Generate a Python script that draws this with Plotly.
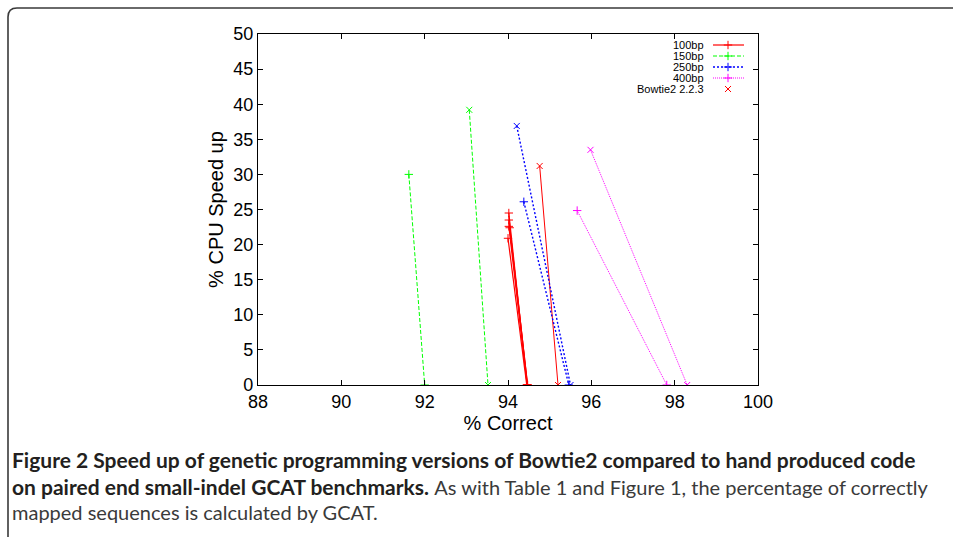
import plotly.graph_objects as go

# ---------------- data ----------------
# each series: list of segments (top point -> bottom point)
s100_gp_x_top = [94.02, 94.02, 94.02, 94.04, 94.00]
s100_gp_y_top = [24.5, 23.5, 22.6, 22.4, 20.9]
s100_gp_x_bot = [94.46, 94.47, 94.46, 94.47, 94.45]
s100_bt_x = [94.76, 95.20]
s100_bt_y = [31.2, 0.0]

s150_gp_x = [91.62, 92.00]
s150_gp_y = [30.0, 0.0]
s150_bt_x = [93.07, 93.52]
s150_bt_y = [39.2, 0.0]

s250_gp_x = [94.38, 95.46]
s250_gp_y = [26.1, 0.0]
s250_bt_x = [94.21, 95.50]
s250_bt_y = [36.9, 0.0]

s400_gp_x = [95.66, 97.81]
s400_gp_y = [24.85, 0.0]
s400_bt_x = [95.98, 98.30]
s400_bt_y = [33.5, 0.0]

legend_labels = ["100bp", "150bp", "250bp", "400bp", "Bowtie2 2.2.3"]

x_ticks = [88, 90, 92, 94, 96, 98, 100]
y_ticks = [0, 5, 10, 15, 20, 25, 30, 35, 40, 45, 50]

RED, GREEN, BLUE, MAG = "#ff0000", "#00ff00", "#0000ff", "#ff00ff"
styles = {
    "100bp": dict(color=RED, dash="solid", width=1.2),
    "150bp": dict(color=GREEN, dash="4px,2px", width=1),
    "250bp": dict(color=BLUE, dash="2px,2px", width=1.4),
    "400bp": dict(color=MAG, dash="1px,1px", width=1),
}
MS = 6

fig = go.Figure()

def seg(xs, ys, style, sym):
    fig.add_trace(go.Scatter(
        x=xs, y=ys, mode="lines+markers", showlegend=False,
        line=style,
        marker=dict(symbol=sym, size=MS, color=style["color"],
                    line=dict(width=1, color=style["color"])),
        hoverinfo="x+y"))

for xt, yt, xb in zip(s100_gp_x_top, s100_gp_y_top, s100_gp_x_bot):
    seg([xt, xb], [yt, 0.0], styles["100bp"], "cross-thin")
seg(s100_bt_x, s100_bt_y, dict(color=RED, dash="solid", width=1), "x-thin")
seg(s150_gp_x, s150_gp_y, styles["150bp"], "cross-thin")
seg(s150_bt_x, s150_bt_y, styles["150bp"], "x-thin")
seg(s250_gp_x, s250_gp_y, styles["250bp"], "cross-thin")
seg(s250_bt_x, s250_bt_y, styles["250bp"], "x-thin")
seg(s400_gp_x, s400_gp_y, styles["400bp"], "cross-thin")
seg(s400_bt_x, s400_bt_y, styles["400bp"], "x-thin")

# ---------------- gnuplot style legend (pixel axes x2/y2) ----------------
PL, PR, PT, PB = 258, 758, 34, 385
leg_rows = [45, 56, 67, 78, 89]
for lab, ry in zip(legend_labels, leg_rows):
    fig.add_annotation(x=706, y=ry, xref="x2", yref="y2", text=lab,
                       showarrow=False, xanchor="right", yanchor="middle",
                       font=dict(family="Liberation Sans, Arial", size=11, color="#000"))
    if lab in styles:
        st = styles[lab]
        fig.add_trace(go.Scatter(x=[713, 744], y=[ry, ry], xaxis="x2", yaxis="y2",
                                 mode="lines", line=st, showlegend=False, hoverinfo="skip"))
        fig.add_trace(go.Scatter(x=[728], y=[ry], xaxis="x2", yaxis="y2", mode="markers",
                                 marker=dict(symbol="cross-thin", size=MS, color=st["color"],
                                             line=dict(width=1, color=st["color"])),
                                 showlegend=False, hoverinfo="skip"))
    else:
        fig.add_trace(go.Scatter(x=[728], y=[ry], xaxis="x2", yaxis="y2", mode="markers",
                                 marker=dict(symbol="x-thin", size=MS, color=RED,
                                             line=dict(width=1, color=RED)),
                                 showlegend=False, hoverinfo="skip"))

W, H = 953, 537
def px(x):
    return (x - PL) / (PR - PL)
def py(y):
    return (PB - y) / (PB - PT)

# outer figure frame (rounded top-left corner)
fig.add_shape(type="path", xref="paper", yref="paper",
              path=f"M {px(8)} {py(540)} L {px(8)} {py(17)} Q {px(8)} {py(8)} {px(17)} {py(8)} L {px(960)} {py(8)}",
              line=dict(color="#3a3a3a", width=1.6))

# caption
cap_font = dict(family="Lato, Open Sans, sans-serif", size=21, color="#231f20")
reg = "<span style='color:#3a3a3a;font-size:20px'>{}</span>"
fig.add_annotation(x=px(10), y=py(459), xref="paper", yref="paper", xanchor="left", yanchor="middle",
                   showarrow=False, align="left", font=cap_font,
                   text="<b>Figure 2 Speed up of genetic programming versions of Bowtie2 compared to hand produced code</b>")
fig.add_annotation(x=px(10), y=py(486), xref="paper", yref="paper", xanchor="left", yanchor="middle",
                   showarrow=False, align="left", font=cap_font,
                   text="<b>on paired end small-indel GCAT benchmarks.</b> "
                        + reg.format("As with Table 1 and Figure 1, the percentage of correctly"))
fig.add_annotation(x=px(10), y=py(512), xref="paper", yref="paper", xanchor="left", yanchor="middle",
                   showarrow=False, align="left", font=cap_font,
                   text=reg.format("mapped sequences is calculated by GCAT."))

axis_font = dict(family="Liberation Sans, Arial", size=18, color="#000")
fig.update_layout(
    width=W, height=H,
    margin=dict(l=PL, r=W - PR, t=PT, b=H - PB, autoexpand=False),
    paper_bgcolor="white", plot_bgcolor="white",
    showlegend=False,
    xaxis=dict(range=[88, 100], tickvals=x_ticks, ticktext=[str(v) for v in x_ticks],
               ticks="inside", ticklen=5, tickcolor="#000", tickwidth=1,
               showline=True, linecolor="#000", linewidth=1.2, mirror="ticks",
               showgrid=False, zeroline=False, tickfont=axis_font,
               ticklabelstandoff=0,
               title=dict(text="% Correct", font=dict(family="Liberation Sans, Arial", size=20, color="#000"),
                          standoff=3)),
    yaxis=dict(range=[0, 50], tickvals=y_ticks, ticktext=[str(v) for v in y_ticks],
               ticks="inside", ticklen=5, tickcolor="#000", tickwidth=1,
               showline=True, linecolor="#000", linewidth=1.2, mirror="ticks",
               showgrid=False, zeroline=False, tickfont=axis_font,
               ticklabelstandoff=0,
               title=dict(text="% CPU Speed up", font=dict(family="Liberation Sans, Arial", size=20, color="#000"),
                          standoff=4)),
    xaxis2=dict(range=[PL, PR], overlaying="x", visible=False, fixedrange=True),
    yaxis2=dict(range=[PB, PT], overlaying="y", visible=False, fixedrange=True),
)

fig.write_html("out.html", config={"displayModeBar": False},
               post_script="document.body.style.margin='0';")
